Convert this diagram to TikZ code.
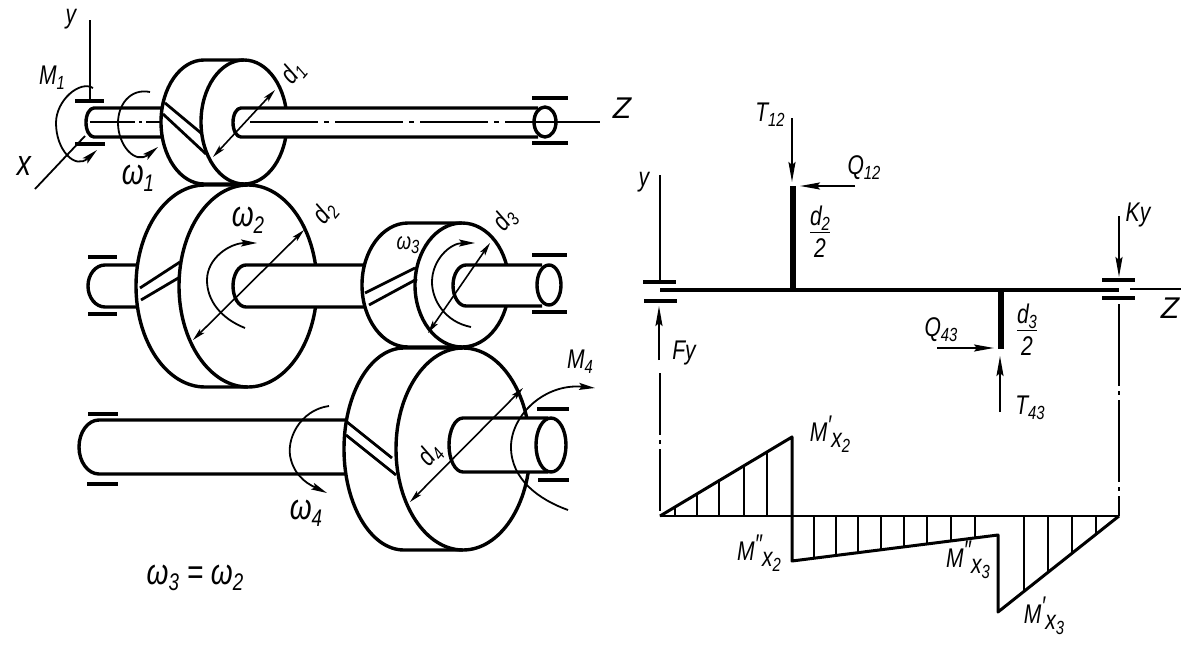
\documentclass[tikz,border=0pt]{standalone}
\usepackage{fontspec}
\setmainfont{Liberation Sans}
\newfontfamily\labfont[FakeStretch=0.78]{Liberation Sans}
\usetikzlibrary{arrows.meta}
\newcommand{\lsub}[1]{\raisebox{-.35ex}{\fontsize{19}{19}\selectfont #1}}
\newcommand{\osub}[1]{\raisebox{-.35ex}{\fontsize{24}{24}\selectfont #1}}
\newcommand{\gearbody}[6]{% back x, front x, cy, rx back, rx front, ry
  \filldraw[gearline,fill=white] (#1,#3-#6) arc[start angle=90,end angle=270,x radius=#4pt,y radius=#6pt]
    -- (#2,#3+#6) arc[start angle=270,end angle=450,x radius=#5pt,y radius=#6pt] -- cycle;
  \draw[gearline] (#2,#3-#6) arc[start angle=90,end angle=270,x radius=#5pt,y radius=#6pt];}
\newcommand{\shaftbody}[5]{% left x, right x, top y, bottom y, cap rx
  \filldraw[shaftline,fill=white] (#2,#3) -- (#1+#5,#3) arc[start angle=90,end angle=270,x radius=#5pt,y radius={(#4-#3)/2*1pt}] -- (#2,#4);}
\tikzset{
  gearline/.style={line width=3.4pt,line join=round},
  shaftline/.style={line width=3.4pt,line join=round},
  bearing/.style={line width=3.8pt},
  thinline/.style={line width=1.8pt},
  tipped/.style={line width=2pt,-{Stealth[length=20pt,width=7pt,inset=3pt]}},
  smalltip/.style={line width=1.8pt,-{Stealth[length=16pt,width=7pt,inset=3pt]}},
  dimline/.style={line width=1.6pt,{Stealth[length=13pt,width=6pt,inset=3pt]}-{Stealth[length=13pt,width=6pt,inset=3pt]}},
  hatchline/.style={line width=1.5pt},
  beam/.style={line width=4pt},
  arm/.style={line width=6pt},
  epure/.style={line width=3pt,line join=round},
  lab/.style={font=\fontsize{27}{29}\labfont\itshape\selectfont,inner sep=0pt},
  omegalab/.style={font=\fontsize{36}{38}\labfont\itshape\selectfont,inner sep=0pt},
  smalllab/.style={font=\fontsize{24}{26}\labfont\itshape\selectfont,inner sep=0pt},
  tooth/.style={line width=2.8pt},
}
\begin{document}
\begin{tikzpicture}[x=1pt,y=-1pt]
\useasboundingbox (0,0) rectangle (1195,645);
\fill[white] (0,0) rectangle (1195,645);
% ---- gear 1 ----
\draw[thinline] (90,20) -- (90,99);
\draw[bearing] (75,101) -- (104,101) (75,144) -- (105,144);
\draw[bearing] (532,98) -- (568,98) (532,143) -- (568,143);
\shaftbody{86}{165}{108}{137}{8}
\draw[line width=1.8pt,dash pattern=on 45pt off 4pt on 3pt off 4pt] (90,122) -- (160,122);
\gearbody{204}{244}{122}{43}{43}{62}
\draw[tooth] (165,103) -- (201,133) (163,114) -- (206,154);
\shaftbody{233}{538}{108}{137}{8}
\filldraw[shaftline,fill=white] (545,122) ellipse[x radius=11pt,y radius=15pt];
\draw[line width=2.2pt,dash pattern=on 68pt off 6pt on 5pt off 6pt] (250,122) -- (540,122);
\draw[thinline] (540,122) -- (600,122);
\draw[thinline] (35,189) -- (85,136);
\draw[smalltip] (93,88) .. controls (80,80) and (56,100) .. (56,123) .. controls (56,150) and (75,170) .. (97,150);
\draw[smalltip] (150,92) .. controls (130,88) and (118,105) .. (118,123) .. controls (118,145) and (135,165) .. (158,147);
\draw[dimline] (213,157) -- (275,90);
% ---- gear 2 and 3 ----
\draw[bearing] (88,257) -- (117,257) (88,314) -- (117,314);
\draw[bearing] (532,255) -- (567,255) (532,312) -- (567,312);
\shaftbody{88}{150}{265}{307}{17}
\gearbody{205}{248}{286}{69}{69}{101}
\draw[tooth] (140,288) -- (180,262) (141,300) -- (180,277);
\shaftbody{233}{380}{265}{307}{13}
\gearbody{408}{462}{285}{46}{47}{62}
\draw[tooth] (365,293) -- (415,268) (369,305) -- (417,279);
\shaftbody{453}{542}{265}{306}{13}
\filldraw[shaftline,fill=white] (549,285) ellipse[x radius=12pt,y radius=20pt];
\draw[smalltip] (245,328) .. controls (220,318) and (207,300) .. (207,280) .. controls (207,258) and (230,243) .. (257,243);
\draw[dimline] (193,340) -- (304,230);
\draw[smalltip] (471,327) .. controls (445,322) and (432,300) .. (432,282) .. controls (432,260) and (450,243) .. (475,243);
\draw[dimline] (428,333) -- (490,243);
% ---- gear 4 ----
\draw[bearing] (88,414) -- (118,414) (87,484) -- (118,484);
\draw[bearing] (537,409) -- (569,409) (538,480) -- (569,480);
\shaftbody{79}{360}{420}{474}{20}
\gearbody{404}{463}{449}{60}{67}{101}
\draw[tooth] (347,422) -- (392,458) (346,435) -- (396,475);
\shaftbody{449}{548}{418}{472}{14}
\filldraw[shaftline,fill=white] (551,445) ellipse[x radius=15pt,y radius=27pt];
\draw[smalltip] (329,406) .. controls (300,410) and (285,440) .. (291,460) .. controls (296,478) and (310,485) .. (327,493);
\draw[dimline] (410,502) -- (523,388);
\draw[smalltip] (568,510) .. controls (540,500) and (511,480) .. (511,447) .. controls (511,415) and (545,383) .. (595,388);
% ---- labels, left part ----
\node[lab] (ly) at (71,19) {y};
\node[lab,font=\fontsize{36}{36}\labfont\itshape\selectfont] (lx) at (24,166) {x};
\node[lab] (lm1) at (52,78) {M\lsub{1}};
\node[omegalab] (lw1) at (138,178) {ω\osub{1}};
\node[lab,rotate=50] (ld1) at (293,73) {d\lsub{1}};
\node[lab,font=\fontsize{30}{30}\itshape\selectfont] (lz) at (622,108) {Z};
\node[omegalab] (lw2) at (248,220) {ω\osub{2}};
\node[lab,rotate=50] (ld2) at (325,213) {d\lsub{2}};
\node[smalllab] (lw3) at (408,245) {ω\lsub{3}};
\node[lab,rotate=50] (ld3) at (505,220) {d\lsub{3}};
\node[lab,rotate=50] (ld4) at (430,455) {d\lsub{4}};
\node[lab] (lm4) at (580,362) {M\lsub{4}};
\node[omegalab] (lw4) at (306,513) {ω\osub{4}};
\node[omegalab] (leq) at (195,578) {ω\osub{3} = ω\osub{2}};
% ---- right part: beam ----
\draw[thinline] (660,175) -- (660,280);
\draw[bearing] (643,282) -- (676,282) (644,301) -- (677,301);
\draw[beam] (660,290) -- (1119,290);
\draw[bearing] (1102,280) -- (1135,280) (1102,298) -- (1135,298);
\draw[thinline] (1130,289) -- (1181,289);
\draw[arm] (793,186) -- (793,290);
\draw[arm] (1001,290) -- (1001,349);
\draw[tipped] (792,118) -- (792,182);
\draw[tipped] (855,186) -- (800,186);
\draw[tipped] (1119,216) -- (1119,277);
\draw[tipped] (659,360) -- (659,306);
\draw[tipped] (937,348) -- (994,348);
\draw[tipped] (1000,412) -- (1000,356);
\node[lab] (lT12) at (770,115) {T\lsub{12}};
\node[lab] (lQ12) at (864,168) {Q\lsub{12}};
\node[lab] (lyr) at (644,182) {y};
\node[lab] (lKy) at (1138,215) {Ky};
\node[lab] (lFy) at (684,353) {Fy};
\node[lab,font=\fontsize{30}{30}\itshape\selectfont] (lZr) at (1170,308) {Z};
\node[lab] (lQ43) at (941,330) {Q\lsub{43}};
\node[lab] (lT43) at (1030,408) {T\lsub{43}};
\node[lab,align=center] (ldd2) at (820,232) {\underline{d\lsub{2}}\\[3pt]2};
\node[lab,align=center] (ldd3) at (1027,330) {\underline{d\lsub{3}}\\[3pt]2};
% ---- right part: moment diagram ----
\draw[thinline,dash pattern=on 62pt off 5pt on 4pt off 5pt] (660,373) -- (660,516);
\draw[thinline,dash pattern=on 82pt off 5pt on 4pt off 5pt] (1119,304) -- (1119,516);
\draw[epure] (660,516) -- (792,437) -- (792,516);
\draw[epure] (792,516) -- (792,561) -- (998,535) -- (998,612) -- (1119,516);
\draw[line width=2.4pt] (660,516) -- (1119,516);
\foreach \hx/\hy in {675/507,697/494,719/481,744/466,767/452}
  \draw[hatchline] (\hx,516) -- (\hx,\hy);
\foreach \hx/\hy in {814/558,836/555,858/553,881/550,904/547,927/544,951/541,975/538}
  \draw[hatchline] (\hx,516) -- (\hx,\hy);
\foreach \hx/\hy in {1024/591,1048/572,1072/553,1096/534}
  \draw[hatchline] (\hx,516) -- (\hx,\hy);
\node[lab] (lMa) at (830,434) {M\raisebox{.5ex}{′}\raisebox{-.45ex}{x\lsub{2}}};
\node[lab] (lMb) at (759,553) {M\raisebox{.5ex}{″}\raisebox{-.45ex}{x\lsub{2}}};
\node[lab] (lMc) at (968,560) {M\raisebox{.5ex}{″}\raisebox{-.45ex}{x\lsub{3}}};
\node[lab] (lMd) at (1044,616) {M\raisebox{.5ex}{′}\raisebox{-.45ex}{x\lsub{3}}};
\end{tikzpicture}
\end{document}
